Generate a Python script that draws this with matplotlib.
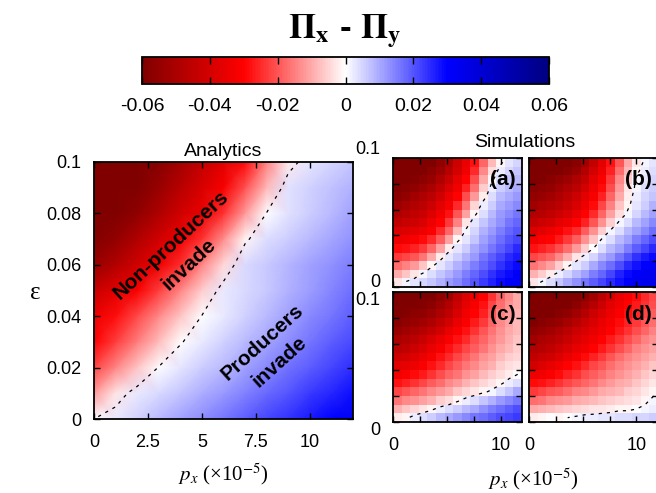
import numpy as np
import matplotlib
matplotlib.use("Agg")
import matplotlib.pyplot as plt
from matplotlib.colors import LinearSegmentedColormap

plt.rcParams["font.family"] = ["Liberation Sans", "DejaVu Sans"]
plt.rcParams["mathtext.fontset"] = "stix"

# colour scale
cbar_ticks = [-0.06, -0.04, -0.02, 0, 0.02, 0.04, 0.06]
cbar_labels = ["-0.06", "-0.04", "-0.02", "0", "0.02", "0.04", "0.06"]

# analytics: Pi_x - Pi_y (x1e-3), rows eps = 0 .. 0.1, columns p_x = 0 .. 12
px_grid = [0, 1, 2, 3, 4, 5, 6, 7, 8, 9, 10, 11, 12]
eps_grid = [0, 0.01, 0.02, 0.03, 0.04, 0.05, 0.06, 0.07, 0.08, 0.09, 0.1]
analytic = [
    [0, 2.7, 5.4, 8.1, 10.8, 13.5, 16.2, 18.9, 21.6, 24.3, 27, 29.7, 32.4],
    [-12, -3, 2.5, 4.5, 7, 9.4, 12, 14.8, 17.5, 20, 23, 25.6, 28.3],
    [-22, -14.4, -6.8, 0.3, 3, 5.7, 8.4, 11, 13.8, 16.5, 19, 22, 24.6],
    [-30, -22.6, -15.2, -7.8, -0.4, 2.6, 5.3, 8, 10.7, 13.4, 16, 18.8, 21.5],
    [-34, -28.4, -21.2, -14, -6.8, 0.2, 2.8, 5.5, 8.2, 11, 13.6, 16.3, 19],
    [-43, -37, -31, -22.7, -14.2, -5.7, 2.5, 4.3, 6.5, 9, 11.7, 14.4, 17.1],
    [-54, -48, -41, -33.4, -24.5, -14.5, -4.5, 4.5, 6.5, 8.8, 11, 13, 15],
    [-59, -55, -48.5, -41, -33.5, -24.2, -13.2, -1.0, 4, 6, 8.2, 10.5, 13],
    [-62, -60, -56, -49, -41, -35, -24, -12, 0.3, 3.5, 5.8, 8.2, 10.8],
    [-64, -63, -60, -54, -46.5, -39, -31.5, -20.4, -8.4, 3.6, 5.5, 7.4, 9],
    [-65, -65, -63, -58, -51.5, -44, -36.7, -28.8, -15, -2.8, 3.2, 5, 6.9],
]

# simulations (x1e-3), 15 x 15 cells, rows listed from top (eps = 0.1) down
sim_a = [
    [-62, -62, -62, -61, -60, -56, -50, -42, -35, -28, -18, -8, -1, 3, 5],
    [-62, -62, -61, -60, -57, -53, -47, -40, -33, -25, -14, -4, 2, 5, 7],
    [-61, -61, -59, -57, -54, -49, -43, -36, -30, -21, -10, -1, 4, 7, 8],
    [-59, -58, -56, -53, -50, -45, -39, -33, -26, -17, -6, 2, 6, 8, 10],
    [-57, -55, -52, -49, -46, -41, -35, -30, -21, -12, -2, 4, 8, 10, 12],
    [-53, -51, -48, -46, -42, -37, -32, -25, -16, -5, 2, 6, 10, 12, 14],
    [-49, -47, -45, -43, -38, -33, -28, -20, -11, -1, 4, 8, 12, 14, 16],
    [-45, -43, -42, -39, -34, -30, -23, -15, -3, 3, 7, 10, 13, 16, 18],
    [-39, -38, -37, -34, -31, -25, -18, -8, 1, 5, 9, 12, 15, 18, 20],
    [-34, -33, -31, -29, -25, -19, -11, -1, 3, 7, 11, 14, 17, 20, 22],
    [-29, -28, -26, -23, -18, -11, -2, 3, 6, 10, 13, 16, 19, 22, 25],
    [-23, -22, -20, -16, -10, -2, 3, 6, 9, 12, 16, 19, 22, 25, 27],
    [-17, -15, -12, -7, -1, 3, 6, 9, 12, 15, 18, 21, 24, 27, 29],
    [-10, -7, -3, 1, 4, 7, 9, 12, 15, 18, 21, 24, 27, 29, 31],
    [-3, 1, 3, 5, 7, 9, 12, 14, 17, 20, 23, 26, 29, 31, 32],
]
sim_b = [
    [-62, -62, -62, -62, -61, -58, -52, -44, -37, -28, -20, -10, -3, 1, 3],
    [-62, -62, -61, -60, -58, -54, -48, -40, -34, -26, -17, -8, -1, 2, 4],
    [-61, -60, -58, -55, -53, -49, -44, -37, -31, -23, -14, -6, 1, 3, 5],
    [-58, -57, -55, -52, -49, -46, -40, -34, -29, -21, -12, -3, 1, 4, 6],
    [-55, -54, -52, -49, -46, -42, -37, -32, -26, -18, -10, -2, 2, 5, 7],
    [-52, -50, -48, -46, -43, -39, -34, -29, -22, -15, -7, -1, 3, 6, 9],
    [-48, -47, -45, -42, -39, -35, -30, -25, -18, -11, -4, 1, 5, 8, 11],
    [-44, -42, -40, -37, -34, -30, -26, -20, -13, -6, 1, 4, 8, 11, 14],
    [-38, -37, -34, -31, -28, -25, -19, -13, -6, 1, 4, 8, 11, 14, 17],
    [-33, -31, -30, -27, -23, -19, -13, -7, 1, 4, 8, 11, 15, 18, 21],
    [-28, -26, -24, -21, -17, -12, -6, 0, 4, 8, 11, 15, 19, 22, 25],
    [-22, -20, -18, -14, -9, -3, 2, 5, 9, 12, 16, 20, 24, 27, 29],
    [-16, -14, -11, -6, -1, 3, 6, 10, 14, 17, 21, 25, 28, 30, 32],
    [-9, -6, -2, 2, 5, 8, 11, 15, 18, 22, 26, 29, 31, 33, 34],
    [-3, 1, 4, 7, 10, 13, 16, 19, 22, 25, 28, 31, 33, 34, 35],
]
sim_c = [
    [-62, -62, -62, -61, -60, -56, -52, -45, -38, -34, -30, -24, -18, -14, -10],
    [-62, -61, -60, -59, -57, -53, -48, -42, -36, -32, -28, -22, -17, -13, -10],
    [-60, -59, -57, -56, -53, -49, -45, -39, -33, -30, -26, -20, -15, -12, -9],
    [-58, -56, -54, -52, -49, -45, -40, -35, -31, -27, -23, -18, -14, -11, -8],
    [-54, -52, -50, -47, -44, -40, -35, -31, -28, -24, -20, -16, -13, -10, -8],
    [-50, -48, -46, -43, -39, -35, -31, -28, -25, -21, -18, -15, -12, -9, -7],
    [-46, -45, -42, -39, -35, -32, -28, -25, -22, -19, -16, -13, -10, -8, -6],
    [-42, -40, -38, -35, -32, -28, -25, -22, -19, -16, -13, -11, -8, -6, -5],
    [-37, -36, -34, -31, -28, -25, -22, -19, -16, -14, -11, -9, -6, -4, -3],
    [-33, -31, -29, -27, -24, -21, -18, -16, -13, -11, -8, -6, -4, -2, 0],
    [-28, -26, -24, -22, -19, -17, -14, -12, -9, -7, -5, -3, -1, 2, 4],
    [-22, -20, -18, -16, -14, -12, -10, -7, -5, -3, -1, 1, 4, 7, 10],
    [-16, -14, -13, -11, -9, -6, -4, -1, 2, 4, 7, 9, 12, 14, 16],
    [-9, -7, -5, -3, -1, 2, 4, 6, 8, 10, 13, 15, 17, 19, 21],
    [-2, -1, 2, 4, 6, 8, 10, 12, 14, 16, 17, 19, 21, 22, 23],
]
sim_d = [
    [-62, -62, -62, -62, -62, -61, -57, -52, -46, -40, -35, -32, -29, -25, -22],
    [-62, -62, -62, -61, -60, -57, -52, -47, -42, -37, -33, -30, -27, -24, -21],
    [-61, -61, -60, -58, -56, -52, -47, -42, -38, -34, -31, -28, -25, -22, -19],
    [-60, -58, -56, -54, -51, -47, -43, -39, -35, -32, -29, -26, -23, -20, -17],
    [-56, -54, -52, -49, -46, -42, -39, -36, -33, -30, -27, -24, -21, -18, -15],
    [-52, -50, -48, -46, -43, -39, -36, -33, -30, -27, -24, -21, -18, -15, -13],
    [-48, -47, -45, -42, -39, -36, -33, -30, -27, -24, -21, -18, -15, -13, -11],
    [-45, -43, -41, -38, -35, -32, -29, -26, -23, -20, -17, -15, -13, -11, -9],
    [-40, -38, -36, -33, -30, -28, -25, -22, -20, -17, -15, -13, -11, -9, -7],
    [-34, -33, -31, -29, -26, -24, -21, -19, -17, -15, -13, -11, -9, -7, -5],
    [-29, -28, -26, -24, -22, -20, -18, -16, -14, -12, -10, -9, -7, -5, -3],
    [-23, -22, -20, -19, -17, -15, -14, -12, -10, -9, -8, -6, -5, -3, -1],
    [-17, -16, -14, -13, -12, -10, -9, -8, -7, -6, -5, -4, -3, -1, 1],
    [-10, -9, -8, -7, -6, -5, -4, -3, -3, -2, -1, -1, 0, 1, 2],
    [-2, -1, 0, -1, 0, 1, 2, 2, 3, 3, 4, 4, 5, 5, 6],
]
sim_panels = {"(a)": sim_a, "(b)": sim_b, "(c)": sim_c, "(d)": sim_d}

cmap = LinearSegmentedColormap.from_list(
    "gp", [(0.5, 0, 0), (1, 0, 0), (1, 1, 1), (0, 0, 1), (0, 0, 0.5)])
VMIN, VMAX = -0.06, 0.06

W, H = 656, 493
fig = plt.figure(figsize=(W / 100, H / 100), dpi=100)


def box(x0, y0, x1, y1):
    return [x0 / W, 1 - y1 / H, (x1 - x0) / W, (y1 - y0) / H]


def style(ax, xpad=11, ypad=9):
    ax.tick_params(direction="in", top=True, right=True, length=4, width=1,
                   labelsize=13)
    ax.tick_params(axis="x", pad=xpad)
    ax.tick_params(axis="y", pad=ypad)
    for s in ax.spines.values():
        s.set_linewidth(1.3)


# analytics panel
ax = fig.add_axes(box(94, 162, 353, 419))
Z = np.array(analytic) * 1e-3
mesh = ax.pcolormesh(px_grid, eps_grid, Z, shading="gouraud", cmap=cmap,
                     vmin=VMIN, vmax=VMAX)
cs = ax.contour(px_grid, eps_grid, Z, levels=[0], colors="k", linewidths=0.9)
cs.set_linestyle((0, (2.5, 4)))
ax.set_xlim(0, 12)
ax.set_ylim(0, 0.1)
ax.set_xticks([0, 2.5, 5, 7.5, 10], ["0", "2.5", "5", "7.5", "10"])
ax.set_yticks([0, 0.02, 0.04, 0.06, 0.08, 0.1],
              ["0", "0.02", "0.04", "0.06", "0.08", "0.1"])
style(ax)
ax.set_title("Analytics", fontsize=14, pad=4)
ax.text(4.0, 0.064, "Non-producers\ninvade", rotation=43, rotation_mode="anchor",
        ha="center", va="center", fontsize=15, fontweight="bold", linespacing=1.5)
ax.text(8.2, 0.026, "Producers\ninvade", rotation=42, rotation_mode="anchor",
        ha="center", va="center", fontsize=15, fontweight="bold", linespacing=1.5)

fig.text(35 / W, 1 - 293 / H, "ε", fontsize=18, family="Liberation Serif",
         ha="center", va="center")
fig.text(223 / W, 1 - 474 / H, r"$p_x$ (×10$^{-5}$)", fontsize=15,
         family="Liberation Serif", ha="center", va="center")

# simulation panels
nx = len(sim_a[0])
ny = len(sim_a)
xe = np.linspace(0, 12, nx + 1)
ye = np.linspace(0, 0.1, ny + 1)
xc = (xe[:-1] + xe[1:]) / 2
yc = (ye[:-1] + ye[1:]) / 2
boxes = {"(a)": box(393, 158, 522, 287), "(b)": box(529, 158, 658, 287),
         "(c)": box(393, 292, 522, 422), "(d)": box(529, 292, 658, 422)}
for name, grid in sim_panels.items():
    sa = fig.add_axes(boxes[name])
    G = np.array(grid[::-1]) * 1e-3
    sa.pcolormesh(xe, ye, G, cmap=cmap, vmin=VMIN, vmax=VMAX)
    c = sa.contour(xc, yc, G, levels=[0], colors="k", linewidths=0.9)
    c.set_linestyle((0, (2.5, 4)))
    sa.set_xlim(0, 12)
    sa.set_ylim(0, 0.1)
    bottom = name in ("(c)", "(d)")
    left = name in ("(a)", "(c)")
    sa.set_xticks([0, 2.5, 5, 7.5, 10],
                  ["0", "", "", "", "10"] if bottom else [""] * 5)
    sa.set_yticks([0, 0.02, 0.04, 0.06, 0.08, 0.1],
                  ["0", "", "", "", "", "0.1"] if left else [""] * 6)
    style(sa)
    if left:
        labels = sa.get_yticklabels()
        if name == "(a)":
            labels[0].set_va("baseline")
            labels[-1].set_va("bottom")
        else:
            for lbl in labels:
                lbl.set_va("top")
    sa.text(0.85, 0.83, name, transform=sa.transAxes, ha="center", va="center",
            fontsize=15, fontweight="bold")

fig.text(525 / W, 1 - 142 / H, "Simulations", fontsize=14, ha="center",
         va="center")
fig.text(533 / W, 1 - 479 / H, r"$p_x$ (×10$^{-5}$)", fontsize=15,
         family="Liberation Serif", ha="center", va="center")

# colour bar
cax = fig.add_axes(box(142, 57, 549, 84))
cb = fig.colorbar(mesh, cax=cax, orientation="horizontal", ticks=cbar_ticks)
cb.set_ticklabels(cbar_labels)
cax.xaxis.set_ticks_position("both")
cax.tick_params(direction="in", length=5, width=1, labelsize=14, pad=10,
                labeltop=False, labelbottom=True)
cb.outline.set_linewidth(1.3)

fig.text(345 / W, 1 - 31 / H, r"$\mathbf{\Pi}_\mathbf{x}$ - $\mathbf{\Pi}_\mathbf{y}$",
         fontsize=25, fontweight="bold", ha="center", va="center")

fig.savefig("out.png", dpi=100)
